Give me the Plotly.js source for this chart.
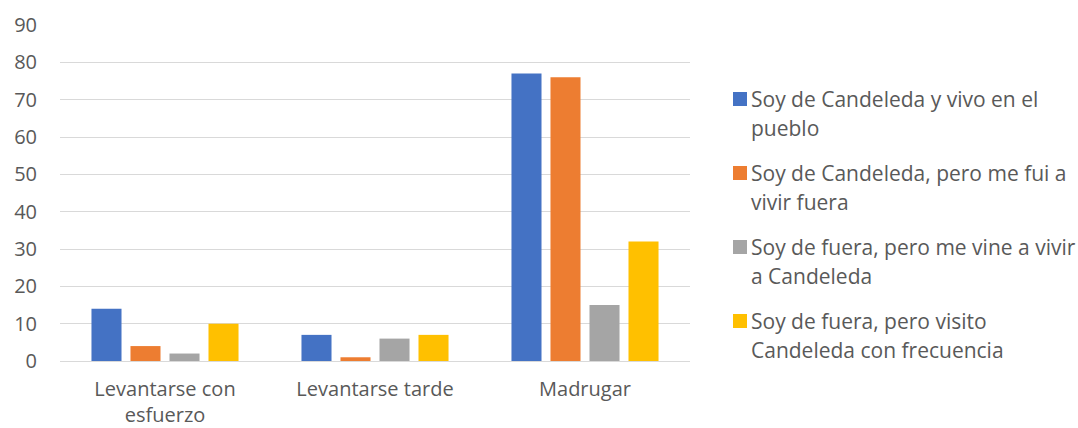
<!DOCTYPE html>
<html>
<head>
<meta charset="utf-8">
<script src="https://cdn.plot.ly/plotly-3.0.1.min.js"></script>
<style>html,body{margin:0;padding:0;background:#fff;}#chart{width:1078px;height:428px;}</style>
</head>
<body>
<div id="chart"></div>
<script>
const categories = ["Levantarse con<br>esfuerzo", "Levantarse tarde", "Madrugar"];
const seriesNames = [
  ["Soy de Candeleda y vivo en el", "pueblo"],
  ["Soy de Candeleda, pero me fui a", "vivir fuera"],
  ["Soy de fuera, pero me vine a vivir", "a Candeleda"],
  ["Soy de fuera, pero visito", "Candeleda con frecuencia"]
];
const seriesA = [14, 7, 77];
const seriesB = [4, 1, 76];
const seriesC = [2, 6, 15];
const seriesD = [10, 7, 32];
const colors = ["#4472C4", "#ED7D31", "#A5A5A5", "#FFC000"];
const yTicks = [0, 10, 20, 30, 40, 50, 60, 70, 80, 90];

const FONT = "'Open Sans', Lato, sans-serif";
const TXT = "#595959";
const FS = 20;
const LEG_FS = 21;

const allSeries = [seriesA, seriesB, seriesC, seriesD];
const traces = allSeries.map((vals, i) => ({
  type: "bar",
  x: categories,
  y: vals,
  name: seriesNames[i].join(" "),
  marker: {color: colors[i], line: {width: 0}},
  showlegend: false,
  hoverinfo: "y"
}));

// legend drawn in pixel space, converted to paper coords
const L = 60, R = 690, T = 25, B = 361;
const px = x => (x - L) / (R - L);
const py = y => (B - y) / (B - T);
const shapes = [];
const annotations = [];
const legendCenters = [99, 173, 247, 321];
seriesNames.forEach((lines, i) => {
  const cy = legendCenters[i];
  shapes.push({type: "rect", xref: "paper", yref: "paper",
    x0: px(733), x1: px(747), y0: py(cy + 7), y1: py(cy - 7),
    fillcolor: colors[i], line: {width: 0}});
  lines.forEach((t, j) => {
    annotations.push({xref: "paper", yref: "paper", x: px(749), y: py(cy + j * 29),
      xanchor: "left", yanchor: "middle", text: t, showarrow: false,
      font: {family: FONT, size: LEG_FS, color: TXT}});
  });
});

const layout = {
  width: 1078, height: 428,
  margin: {l: L, r: 1078 - R, t: T, b: 428 - B},
  paper_bgcolor: "#fff", plot_bgcolor: "#fff",
  barmode: "group", bargap: 0.257, bargroupgap: 0.23,
  font: {family: FONT, size: FS, color: TXT},
  xaxis: {showgrid: false, showline: true, linecolor: "#d9d9d9", linewidth: 1,
    ticks: "", ticklabelstandoff: 10,
    tickfont: {family: FONT, size: FS, color: TXT}, fixedrange: true},
  yaxis: {range: [0, 90], tickvals: yTicks, ticktext: yTicks.map(String),
    showgrid: true, gridcolor: "#d9d9d9", gridwidth: 1, zeroline: false,
    showline: false, ticks: "", ticklabelstandoff: 22,
    tickfont: {family: FONT, size: FS, color: TXT}, fixedrange: true},
  shapes: shapes,
  annotations: annotations,
  showlegend: false
};

Plotly.newPlot("chart", traces, layout, {displayModeBar: false, staticPlot: true});
</script>
</body>
</html>
